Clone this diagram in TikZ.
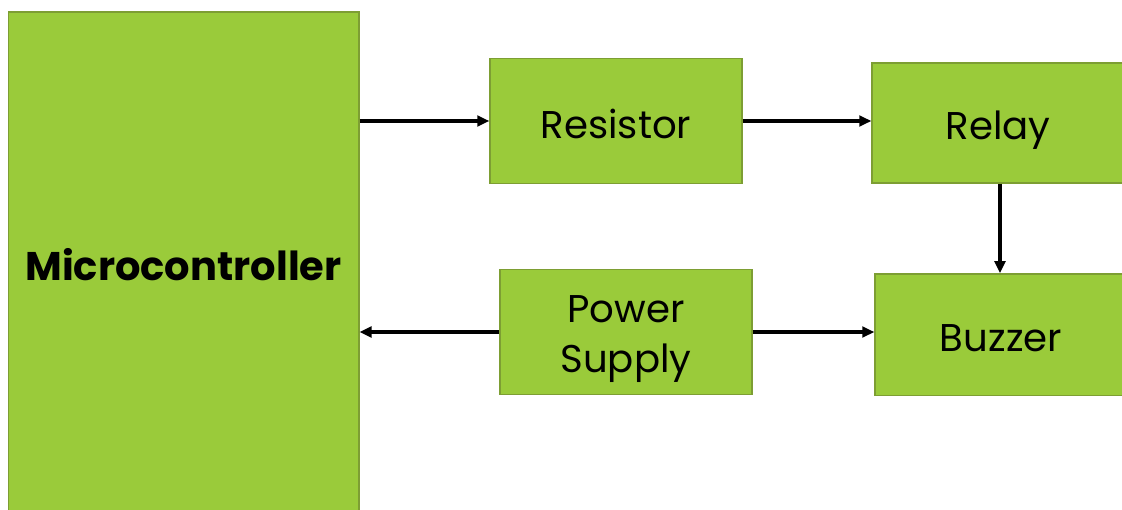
\documentclass[tikz,border=0pt]{standalone}
\usepackage{fontspec}
\setmainfont{Poppins}
\usepackage{xcolor}
\usetikzlibrary{arrows.meta,positioning,calc}

\definecolor{blockgreen}{HTML}{9ACB3A}
\definecolor{blockedge}{HTML}{7D9E33}

\begin{document}
\begin{tikzpicture}[
    x=0.75pt, y=-0.75pt,
    >={Triangle[length=9pt,width=8pt]},
    block/.style={draw=blockedge, line width=1pt, fill=blockgreen,
                  font=\fontsize{29}{37}\selectfont, align=center,
                  inner sep=0pt, minimum width=#1,
                  text height=30pt, text depth=4.5pt},
    block/.default=189pt,
    arr/.style={->, line width=2.6pt, color=black},
  ]
  \useasboundingbox (0,0) rectangle (1122,510);
  \clip (0,0) rectangle (1122,510);

  % Controller
  \node[block=263pt, minimum height=377pt,
        font=\fontsize{30}{34}\selectfont\bfseries] (mcu) at (183.5,263.5)
    {Microcontroller};

  % Top row
  \node[block, minimum height=94pt] (res) at (616,121) {Resistor};
  \node[block, minimum height=90pt] (rly) at (998,123) {Relay};

  % Bottom row
  \node[block, minimum height=94pt, text height=60pt, text depth=0pt]
    (psu) at (626,332) {Power\\Supply};
  \node[block, minimum height=91pt] (buz) at (1001,334.5) {Buzzer};

  \draw[arr] (res.west -| mcu.east) -- (res.west);
  \draw[arr] (res.east) -- (res.east -| rly.west);
  \draw[arr] (rly.south -| 1000,0) -- (buz.north -| 1000,0);
  \draw[arr] (psu.west) -- (psu.west -| mcu.east);
  \draw[arr] (psu.east) -- (psu.east -| buz.west);
\end{tikzpicture}
\end{document}
